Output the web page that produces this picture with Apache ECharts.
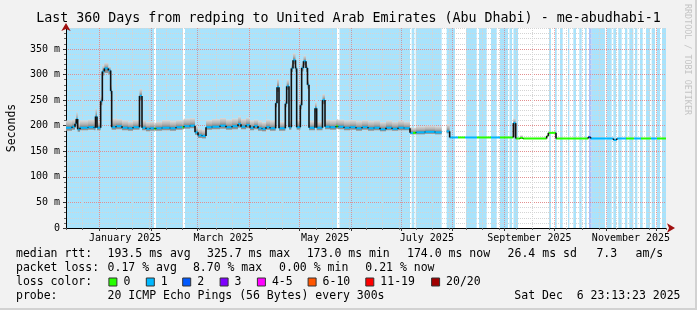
<!DOCTYPE html>
<html><head><meta charset="utf-8">
<script src="https://cdn.jsdelivr.net/npm/echarts@6/dist/echarts.min.js"></script>
<style>html,body{margin:0;padding:0;background:#f2f2f2}#c{width:697px;height:310px}</style>
</head><body><div id="c"></div>
<script>
// ---------- data (x = days relative to 1 Jan 2025) ----------
const TITLE = 'Last 360 Days from redping to United Arab Emirates (Abu Dhabi) - me-abudhabi-1';
const xMinDay = -20, xMaxDay = 340;
const yMaxMs = 391;
const monthStartDays = [0, 31, 59, 90, 120, 151, 181, 212, 243, 273, 304, 334];
const monthLabelDays = [15.5, 74.5, 135.5, 196.5, 258, 319];
const monthLabels = ['January 2025', 'March 2025', 'May 2025', 'July 2025', 'September 2025', 'November 2025'];

const medianDay = [-20.0,-16.4,-14.6,-13.8,-13.0,-11.6,-6.8,-3.2,-2.3,-1.4,0.8,1.8,3.0,5.4,6.8,7.4,10.0,13.6,17.2,20.2,24.1,25.6,28.0,30.4,33.1,34.0,37.6,42.4,46.0,49.9,50.8,54.4,57.4,59.2,61.6,64.0,67.6,72.4,76.0,79.6,83.2,85.0,88.0,90.4,92.8,95.2,97.6,100.0,102.4,105.8,106.6,107.8,111.6,112.4,113.8,115.2,116.2,117.7,118.4,120.6,121.4,122.5,124.0,124.9,125.8,129.4,130.4,133.9,135.4,138.4,142.0,143.2,146.8,150.4,154.0,157.6,161.2,164.8,168.4,172.0,175.6,179.2,182.8,186.4,188.2,190.0,195.4,201.4,205.4,208.4,210.2,215.2,219.4,226.6,235.0,240.4,248.4,249.8,252.4,254.2,268.4,269.4,274.0,293.4,294.7,308.5,310.4,316.0,320.8,325.0,331.0,334.6];
const medianMs  = [196,198,204,213,193,196,197,196,218,196,248,306,312,308,268,197,199,196,195,197,258,196,194,195,194,195,196,195,197,197,199,200,187,181,180,197,198,200,197,199,203,198,201,196,199,195,194,197,195,244,275,195,243,277,197,312,328,312,197,240,313,326,313,280,196,234,196,250,198,197,199,198,196,197,195,197,195,196,193,196,194,196,195,186,186,187,188,187,null,189,177,177,177,177,177,177,205,175,176,175,180,186,175,178,175,172,175,175,175,175,175,175];
const medianLoss = [1,1,1,1,1,1,1,1,1,1,1,1,1,1,1,1,1,1,1,1,1,1,1,1,0,1,1,1,1,0,1,1,1,1,1,1,1,1,1,1,1,1,1,1,1,1,1,1,1,1,1,1,1,1,1,1,1,1,1,1,1,1,1,1,1,1,1,1,1,1,0,1,1,1,1,1,1,1,1,1,1,1,1,1,0,1,1,1,1,1,1,0,1,0,1,0,1,0,0,0,0,0,0,2,1,1,1,0,1,0,1,0];
const smokeLo = [190,192,196,200,188,191,192,191,204,191,240,298,303,300,262,192,193,191,190,192,250,191,189,190,190,190,191,190,192,193,194,195,182,176,175,192,193,194,192,193,196,193,195,191,193,190,189,192,190,236,266,190,236,270,192,305,320,305,192,232,306,318,305,272,191,226,191,242,193,192,194,193,191,192,190,192,190,191,189,191,190,191,191,183,183,183,184,183,null,185,177,177,177,177,177,177,178,175,174,175,180,186,175,176,175,172,175,175,175,175,175,175];
const smokeHi = [210,212,216,227,206,210,212,209,234,208,258,318,323,316,280,214,213,210,208,211,272,210,207,208,206,208,211,209,211,212,214,215,200,194,192,211,213,215,212,214,218,213,216,210,212,209,207,212,210,252,292,208,252,290,211,322,342,318,212,250,322,337,320,290,209,246,208,262,212,211,213,212,210,211,209,211,209,210,207,210,208,210,208,197,196,199,200,199,null,203,177,177,177,177,177,177,214,175,181,175,180,186,175,181,175,172,175,175,175,175,175,175];
const lastDay = 340;

// loss background stripes
const lossBgStart = [-20.0,34.0,51.4,144.1,187.4,189.8,208.4,220.0,227.8,235.0,240.4,246.1,248.5,269.8,273.4,276.4,281.2,284.4,288.0,291.4,293.8,295.4,304.4,308.4,311.4,315.4,318.0,321.4,324.4,328.0,331.4,334.4,337.6];
const lossBgEnd   = [32.8,50.2,142.6,186.4,189.0,205.4,213.4,226.4,232.4,238.4,245.2,247.6,251.2,271.0,274.4,278.0,282.0,286.0,289.4,292.4,295.4,303.4,307.4,310.0,313.4,316.8,320.4,322.8,326.0,330.4,333.4,336.4,340.0];
const lossBgClass = [1,1,1,1,1,1,1,1,1,1,1,1,1,1,1,1,1,1,1,1,2,1,1,1,1,1,1,1,1,1,1,1,1];

const lossColors = ['#26ff00','#00b8ff','#0059ff','#7e00ff','#ff00ff','#ff5500','#ff0000','#a10000'];
const lossLabels = ['0','1','2','3','4-5','6-10','11-19','20/20'];
const lossBgColors = ['#ffffff','#a9e3fc','#aac4fb'];

const rttStats = ['193.5 ms avg','325.7 ms max','173.0 ms min','174.0 ms now','26.4 ms sd','7.3','am/s'];
const lossStats = ['0.17 % avg','8.70 % max','0.00 % min','0.21 % now'];
const probeText = '20 ICMP Echo Pings (56 Bytes) every 300s';
const stampText = 'Sat Dec  6 23:13:23 2025';

// ---------- build ----------
const FONT = '"DejaVu Sans Mono", monospace';
const segs = [], smokes = [];
for (let i = 0; i < medianDay.length; i++) {
  if (medianMs[i] === null) continue;
  const end = i + 1 < medianDay.length ? medianDay[i + 1] : lastDay;
  const prev = i > 0 ? medianMs[i - 1] : null;
  segs.push([medianDay[i], end, medianMs[i], prev === null ? 0 : prev, prev === null ? 0 : 1, medianLoss[i]]);
  if (smokeHi[i] > smokeLo[i]) smokes.push([medianDay[i], end, smokeLo[i], medianMs[i], smokeHi[i]]);
}
const bgs = lossBgStart.map((s, i) => [s, lossBgEnd[i], lossBgClass[i]]);

const chart = echarts.init(document.getElementById('c'), null, {renderer: 'canvas'});

const legendG = [];
const L1 = 254.5, L2 = 268.5, L3 = 282.5, L4 = 296.5;
function txt(x, y, t, align) {
  legendG.push({type: 'text', x: x, y: y, silent: true,
    style: {text: t, font: '11.5px ' + FONT, fill: '#000', align: align || 'left', verticalAlign: 'middle'}});
}
txt(16, L1, 'median rtt:');
[107.6, 207, 306.7, 407, 507.6, 596.4, 635.6].forEach((x, i) => txt(x, L1, rttStats[i]));
txt(16, L2, 'packet loss:');
[107.6, 192.9, 279.1, 365.3].forEach((x, i) => txt(x, L2, lossStats[i]));
txt(16, L3, 'loss color:');
const boxX = [108.4, 145.8, 182.2, 219.6, 256.9, 307.6, 365.3, 431.1];
boxX.forEach((x, i) => {
  legendG.push({type: 'rect', shape: {x: x + 0.5, y: L3 - 4.5, width: 8, height: 8}, silent: true,
    style: {fill: lossColors[i], stroke: '#333', lineWidth: 1}});
  txt(x + 15, L3, lossLabels[i]);
});
txt(16, L4, 'probe:');
txt(107.6, L4, probeText);
txt(680.5, L4, stampText, 'right');
legendG.push({type: 'text', x: 686.7, y: 59.5, rotation: -Math.PI / 2, silent: true,
  style: {text: 'RRDTOOL / TOBI OETIKER', font: '8.4px ' + FONT, fill: '#c4c4c4', align: 'center', verticalAlign: 'middle'}});
legendG.push({type: 'rect', shape: {x: 695, y: 0, width: 2, height: 310}, silent: true, style: {fill: '#d2d2d2'}});
legendG.push({type: 'rect', shape: {x: 0, y: 308, width: 697, height: 2}, silent: true, style: {fill: '#d2d2d2'}});

const grid = {left: 66, top: 28, width: 600, height: 200, show: true, backgroundColor: '#ffffff', borderWidth: 0, z: -3,
  containLabel: false, outerBoundsMode: 'none'};
const ARROW = '#a01010';
const MAJOR = 'rgba(255,0,0,0.32)';

const option = {
  animation: false,
  backgroundColor: '#f2f2f2',
  textStyle: {fontFamily: FONT},
  title: {text: TITLE, left: 'center', top: 12, padding: 0,
    textStyle: {fontFamily: FONT, fontSize: 13.3, fontWeight: 'normal', color: '#000'}},
  grid: grid,
  xAxis: [
    { // minor grid (10 days) + arrow
      type: 'value', min: xMinDay, max: xMaxDay, interval: 10, position: 'bottom',
      axisLine: {show: true, onZero: false, lineStyle: {color: ARROW, width: 1}, symbol: ['none', 'arrow'], symbolSize: [7, 8], symbolOffset: [0, 9]},
      axisTick: {show: true, length: 2, lineStyle: {color: '#666'}},
      axisLabel: {show: false},
      splitLine: {show: true, showMinLine: false, showMaxLine: false, lineStyle: {color: '#d4d4d4', type: [1, 1]}}
    },
    { // month grid
      type: 'value', min: xMinDay, max: xMaxDay, position: 'bottom',
      axisLine: {show: true, onZero: false, lineStyle: {color: '#000', width: 1}},
      axisTick: {show: true, length: 3, customValues: monthStartDays, lineStyle: {color: '#333'}},
      axisLabel: {show: false},
      splitLine: {show: true, lineStyle: {color: MAJOR, type: [1, 1]}}
    },
    { // month labels
      type: 'value', min: xMinDay, max: xMaxDay, position: 'bottom',
      axisLine: {show: false, onZero: false}, axisTick: {show: false}, splitLine: {show: false},
      axisLabel: {show: true, customValues: monthLabelDays, margin: 5, color: '#000', fontFamily: FONT, fontSize: 10,
        formatter: v => { const i = monthLabelDays.indexOf(v); return i >= 0 ? monthLabels[i] : ''; }}
    }
  ],
  yAxis: [
    { // minor 10 ms + arrow
      type: 'value', min: 0, max: yMaxMs, interval: 10, position: 'left',
      axisLine: {show: true, onZero: false, lineStyle: {color: ARROW, width: 1}, symbol: ['none', 'arrow'], symbolSize: [7, 8], symbolOffset: [0, 5]},
      axisTick: {show: true, length: 2, lineStyle: {color: '#666'}},
      axisLabel: {show: false},
      splitLine: {show: true, showMinLine: false, showMaxLine: false, lineStyle: {color: '#d4d4d4', type: [1, 1]}}
    },
    { // major 50 ms
      type: 'value', min: 0, max: yMaxMs, interval: 50, position: 'left',
      name: 'Seconds', nameLocation: 'middle', nameGap: 48, nameRotate: 90,
      nameTextStyle: {fontFamily: FONT, fontSize: 11.5, color: '#000'},
      axisLine: {show: true, onZero: false, lineStyle: {color: '#000', width: 1}},
      axisTick: {show: true, length: 3, lineStyle: {color: '#333'}},
      axisLabel: {show: true, margin: 6, color: '#000', fontFamily: FONT, fontSize: 10, showMaxLabel: false,
        formatter: v => (v % 50 !== 0) ? '' : (v === 0 ? '0' : v + ' m')},
      splitLine: {show: true, showMinLine: false, showMaxLine: false, lineStyle: {color: MAJOR, type: [1, 1]}}
    }
  ],
  series: [
    { // loss background
      type: 'custom', name: 'lossbg', z: -2, silent: true, xAxisIndex: 0, yAxisIndex: 0,
      data: bgs, encode: {x: [0, 1]},
      renderItem: (p, api) => {
        const a = api.coord([api.value(0), yMaxMs]), b = api.coord([api.value(1), 0]);
        return {type: 'rect', shape: {x: a[0], y: a[1], width: b[0] - a[0], height: b[1] - a[1]},
          style: {fill: lossBgColors[api.value(2)]}};
      }
    },
    { // smoke
      type: 'custom', name: 'smoke', z: 2, silent: true, xAxisIndex: 0, yAxisIndex: 0,
      data: smokes, encode: {x: [0, 1], y: [2, 4]}, clip: true,
      renderItem: (p, api) => {
        const lo = api.value(2), med = api.value(3), hi = api.value(4);
        const a = api.coord([api.value(0), hi]), b = api.coord([api.value(1), lo]);
        const f = Math.min(0.98, Math.max(0.02, (hi - med) / (hi - lo)));
        return {type: 'rect', shape: {x: a[0], y: a[1], width: b[0] - a[0], height: b[1] - a[1]},
          style: {fill: new echarts.graphic.LinearGradient(0, 0, 0, 1, [
            {offset: 0, color: '#dadada'}, {offset: f * 0.5, color: '#b4b4b4'},
            {offset: f, color: '#7a7a7a'}, {offset: 1, color: '#9c9c9c'}])}};
      }
    },
    { // median
      type: 'custom', name: 'median', z: 3, silent: true, xAxisIndex: 0, yAxisIndex: 0,
      data: segs, encode: {x: [0, 1], y: 2}, clip: true,
      renderItem: (p, api) => {
        const s = api.value(0), e = api.value(1), m = api.value(2), pm = api.value(3), hasPrev = api.value(4), loss = api.value(5);
        const ch = [];
        const a = api.coord([s, m]), b = api.coord([e, m]);
        ch.push({type: 'line', shape: {x1: a[0], y1: a[1], x2: b[0], y2: b[1]}, style: {stroke: lossColors[loss], lineWidth: 2}});
        if (hasPrev) {
          const c = api.coord([s, pm]);
          ch.push({type: 'line', shape: {x1: c[0], y1: c[1], x2: a[0], y2: a[1]}, style: {stroke: '#111', lineWidth: 1.6}});
        }
        return {type: 'group', children: ch};
      }
    }
  ],
  graphic: legendG
};
chart.setOption(option);
</script>
</body></html>
